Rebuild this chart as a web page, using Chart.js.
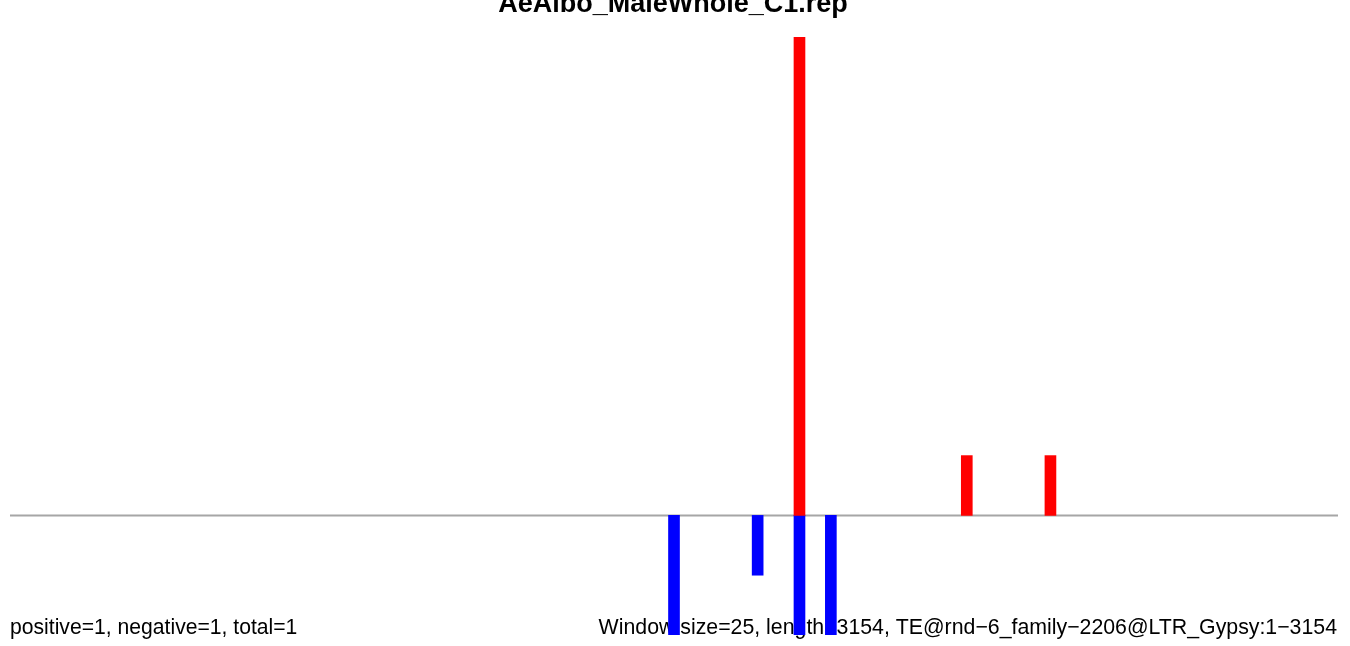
<!DOCTYPE html>
<html><head><meta charset="utf-8">
<script src="https://cdn.jsdelivr.net/npm/chart.js@4/dist/chart.umd.min.js"></script>
<style>html,body{margin:0;padding:0;background:#fff;overflow:hidden}#wrap{position:relative;width:1350px;height:646px}</style>
</head><body><div id="wrap"><canvas id="c" width="1350" height="646"></canvas></div>
<script>
const chartTitle = "AeAlbo_MaleWhole_C1.rep";
const windowSize = 25;
const seqLength = 3154;
// window indices (0-based) and counts
const positiveWindows = [75, 91, 99];
const positiveValues = [8, 1, 1];
const negativeWindows = [63, 71, 75, 78];
const negativeValues = [-2, -1, -2, -2];
const yRange = [-2, 8];
const footLeft = "positive=1, negative=1, total=1";
const footRight = "Window size=25, length=3154, TE@rnd\u22126_family\u22122206@LTR_Gypsy:1\u22123154";

const nWindows = Math.ceil(seqLength / windowSize);
const labels = [];
for (let i = 0; i < nWindows; i++) labels.push(String(i * windowSize + 1));
function fill(idx, vals) {
  const arr = new Array(nWindows).fill(null);
  idx.forEach((k, j) => { arr[k] = vals[j]; });
  return arr;
}

const textPlugin = {
  id: 'texts',
  beforeDatasetsDraw(chart) {
    const ctx = chart.ctx, a = chart.chartArea;
    const y0 = chart.scales.y.getPixelForValue(0);
    ctx.save();
    ctx.strokeStyle = '#a6a6a6';
    ctx.lineWidth = 2;
    ctx.beginPath();
    ctx.moveTo(a.left, y0);
    ctx.lineTo(a.right, y0);
    ctx.stroke();
    ctx.fillStyle = '#000';
    ctx.textBaseline = 'alphabetic';
    ctx.font = '21.15px "Liberation Sans", Arial, sans-serif';
    ctx.textAlign = 'left';
    ctx.fillText(footLeft, 10, 634);
    ctx.font = '21.3px "Liberation Sans", Arial, sans-serif';
    ctx.textAlign = 'right';
    ctx.fillText(footRight, 1337, 634);
    ctx.font = 'bold 27px "Liberation Sans", Arial, sans-serif';
    ctx.textAlign = 'center';
    ctx.fillText(chartTitle, 673, 12);
    ctx.restore();
  }
};

new Chart(document.getElementById('c'), {
  type: 'bar',
  data: {
    labels: labels,
    datasets: [
      { label: 'positive', data: fill(positiveWindows, positiveValues), backgroundColor: '#ff0000', borderWidth: 0, barThickness: 11 },
      { label: 'negative', data: fill(negativeWindows, negativeValues), backgroundColor: '#0000ff', borderWidth: 0, barThickness: 11 }
    ]
  },
  options: {
    responsive: false,
    animation: false,
    layout: { padding: { left: 10, right: 12, top: 37, bottom: 11 } },
    plugins: { legend: { display: false }, tooltip: { enabled: false }, title: { display: false } },
    scales: {
      x: { display: false, stacked: true, grid: { display: false } },
      y: { display: false, stacked: true, min: yRange[0], max: yRange[1], grid: { display: false } }
    }
  },
  plugins: [textPlugin]
});
</script>
</body></html>
